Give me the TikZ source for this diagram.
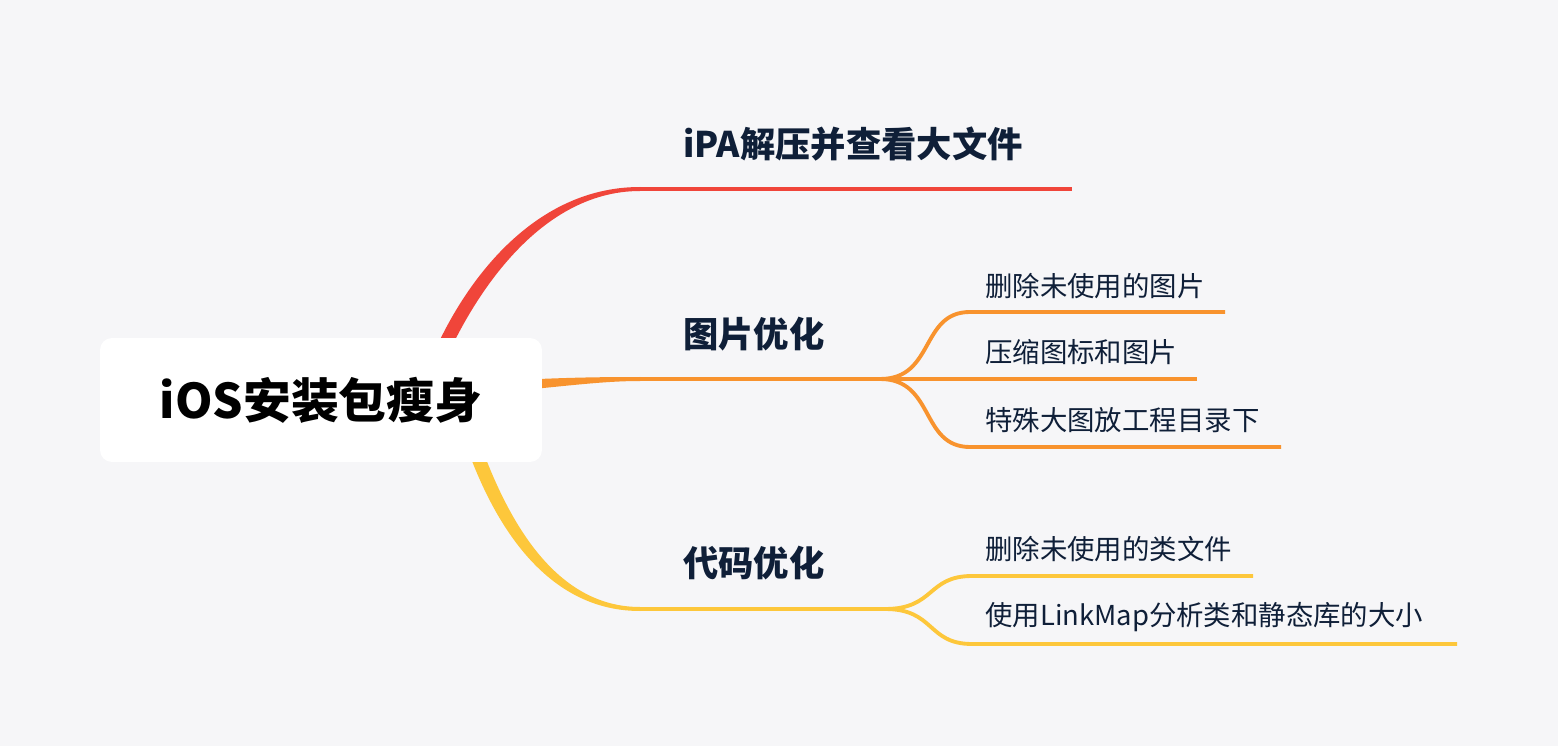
\documentclass[tikz,border=0pt]{standalone}
\usepackage{fontspec}
\setmainfont{Noto Sans CJK SC}
\usepackage{tikz}
\usetikzlibrary{calc}
\definecolor{bg100}{HTML}{F6F6F8}
\definecolor{red500}{HTML}{F0453A}
\definecolor{orange500}{HTML}{F8932E}
\definecolor{yellow500}{HTML}{FDC73B}
\definecolor{navy900}{HTML}{0F1F38}
\tikzstyle{rootbox}=[rectangle, rounded corners=6.8pt, fill=white, minimum width=8.84cm, minimum height=2.48cm, font=\fontsize{27.2}{32}\selectfont\bfseries]
\tikzstyle{branch}=[anchor=west, inner sep=0pt, text=navy900, font=\fontsize{20.1}{24}\selectfont\bfseries]
\tikzstyle{leaf}=[anchor=west, inner sep=0pt, text=navy900, font=\fontsize{15.6}{19}\selectfont]
\tikzstyle{edge}=[line width=2.2pt]

\begin{document}
\begin{tikzpicture}[x=0.02cm, y=-0.02cm]
				\fill[bg100] (0,0) rectangle (1558,746);
				\useasboundingbox (0,0) rectangle (1558,746);
				% branch roots behind the box
				\coordinate (r0) at (430,380);
				\coordinate (o0) at (500,386);
				\coordinate (y0) at (465,420);
				\coordinate (b1) at (640,189);
				\coordinate (b2) at (640,379);
				\coordinate (b3) at (640,609);
				\fill[red500] ($(r0)+(-7,0)$) .. controls ($(r0)+(23,-84)$) and ($(b1)+(-114,-2)$) .. ($(b1)+(0,-2)$)
					-- ($(b1)+(0,2)$) .. controls ($(b1)+(-104,2)$) and ($(r0)+(37,-76)$) .. ($(r0)+(7,0)$) -- cycle;
				\fill[orange500] ($(o0)+(0,-5)$) .. controls ($(o0)+(60,-8.5)$) and ($(b2)+(-40,-2)$) .. ($(b2)+(0,-2)$)
					-- ($(b2)+(0,2)$) .. controls ($(b2)+(-40,2)$) and ($(o0)+(60,1)$) .. ($(o0)+(0,6)$) -- cycle;
				\fill[yellow500] ($(y0)+(-7,0)$) .. controls ($(y0)+(18,84)$) and ($(b3)+(-104,2)$) .. ($(b3)+(0,2)$)
					-- ($(b3)+(0,-2)$) .. controls ($(b3)+(-96,-2)$) and ($(y0)+(32,76)$) .. ($(y0)+(7,0)$) -- cycle;
				\node[rootbox] (root) at (321,400) {iOS安装包瘦身};
				% first branch
				\coordinate (b1e) at (1072,189);
				\draw[edge, red500] (b1) -- (b1e);
				\node[branch] (n1) at (683,144) {iPA解压并查看大文件};
				% second branch
				\node[branch] (n2) at (683,334) {图片优化};
				\coordinate (s2) at (880,379);
				\coordinate (c1s) at (970,312);
				\coordinate (c1e) at (1225,312);
				\coordinate (c2e) at (1197,379);
				\coordinate (c3s) at (970,447);
				\coordinate (c3e) at (1281,447);
				\draw[edge, orange500] (b2) -- (s2) -- (c2e);
				\draw[edge, orange500] (s2) .. controls +(55,0) and +(-50,0) .. (c1s) -- (c1e);
				\draw[edge, orange500] (s2) .. controls +(55,0) and +(-50,0) .. (c3s) -- (c3e);
				\node[leaf] (c1) at (985,286) {删除未使用的图片};
				\node[leaf] (c2) at (985,352) {压缩图标和图片};
				\node[leaf] (c3) at (985,420) {特殊大图放工程目录下};
				% third branch
				\node[branch] (n3) at (683,563) {代码优化};
				\coordinate (s3) at (885,609);
				\coordinate (d1s) at (972,576);
				\coordinate (d1e) at (1253,576);
				\coordinate (d2s) at (972,644);
				\coordinate (d2e) at (1457,644);
				\draw[edge, yellow500] (b3) -- (s3);
				\draw[edge, yellow500] (s3) .. controls +(50,0) and +(-45,0) .. (d1s) -- (d1e);
				\draw[edge, yellow500] (s3) .. controls +(50,0) and +(-45,0) .. (d2s) -- (d2e);
				\node[leaf] (d1) at (985,549) {删除未使用的类文件};
				\node[leaf] (d2) at (985,617) {使用LinkMap分析类和静态库的大小};
			\end{tikzpicture}
\end{document}
